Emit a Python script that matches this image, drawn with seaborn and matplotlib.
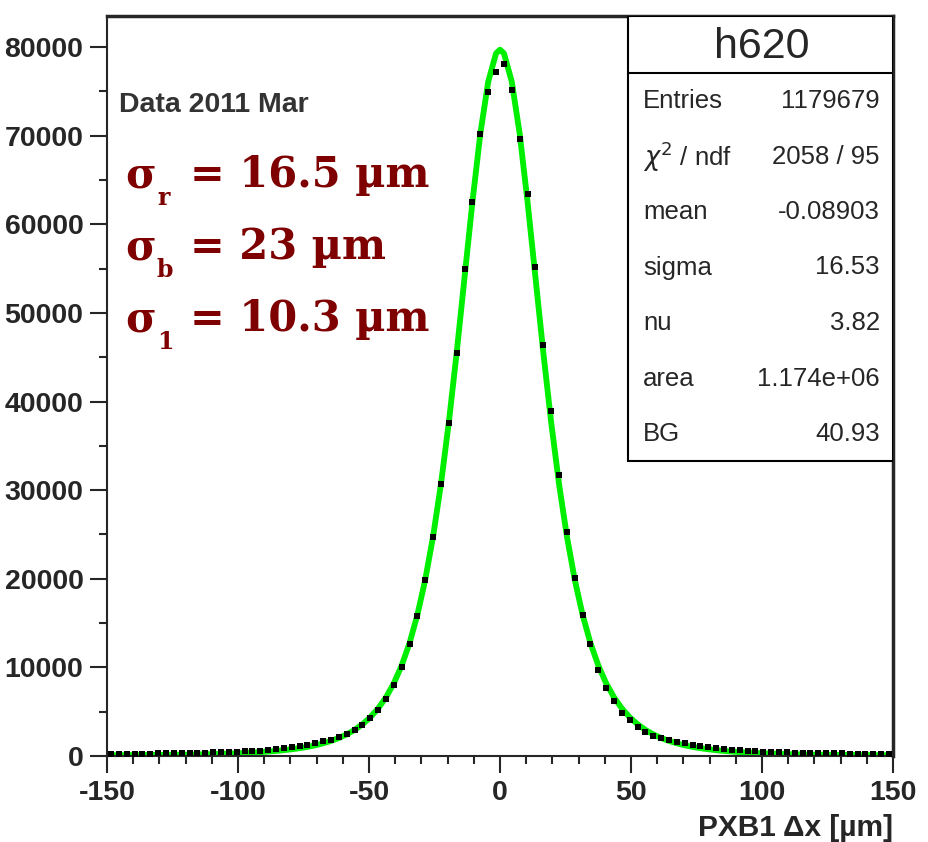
import numpy as np
import pandas as pd
import seaborn as sns
import matplotlib.pyplot as plt
from matplotlib.patches import Rectangle
from matplotlib.ticker import MultipleLocator

sns.set_style('ticks')
plt.rcParams['font.family'] = ['Liberation Sans', 'DejaVu Sans']
plt.rcParams['axes.unicode_minus'] = False

# histogram h620: 100 bins of 3 um from -150 to 150
bin_centres = np.arange(-148.5, 150, 3)
counts = [230, 240, 250, 255, 270, 275, 290, 300, 310, 325,
          340, 355, 375, 395, 420, 445, 475, 510, 560, 610,
          680, 760, 860, 980, 1120, 1280, 1450, 1640, 1850, 2130,
          2480, 2930, 3520, 4280, 5240, 6470, 8010, 10050, 12620, 15830,
          19830, 24760, 30650, 37580, 45480, 54970, 62530, 70200, 74900, 77200,
          78100, 75200, 69600, 63400, 55190, 46400, 38900, 31700, 25300, 20050,
          15900, 12600, 9700, 7700, 6200, 4800, 4050, 3300, 2700, 2300,
          2000, 1800, 1600, 1420, 1270, 1130, 1000, 890, 800, 720,
          650, 600, 550, 505, 470, 440, 410, 385, 365, 345,
          330, 315, 300, 290, 280, 270, 260, 250, 245, 240]

# fitted curve (student-t + BG) read at bin centres and at 0
fit_x = np.sort(np.append(bin_centres, 0.0))
fit_y = [87, 91, 96, 102, 108, 115, 124, 133, 143, 155,
         169, 184, 202, 222, 246, 274, 306, 343, 387, 438,
         499, 571, 657, 759, 882, 1030, 1210, 1430, 1700, 2030,
         2440, 2945, 3580, 4370, 5370, 6630, 8220, 10230, 12770, 15960,
         19940, 24840, 30760, 37720, 45610, 54090, 62580, 70240, 76090, 79290,
         79700,
         79290, 76090, 70240, 62580, 54090, 45610, 37720, 30760, 24840, 19940,
         15960, 12770, 10230, 8220, 6630, 5370, 4370, 3580, 2945, 2440,
         2030, 1700, 1430, 1210, 1030, 882, 759, 657, 571, 499,
         438, 387, 343, 306, 274, 246, 222, 202, 184, 169,
         155, 143, 133, 124, 115, 108, 102, 96, 91, 87]

stat_names = ['Entries', r'$\chi^2$ / ndf', 'mean', 'sigma', 'nu', 'area', 'BG']
stat_values = ['1179679', '2058 / 95', '-0.08903', '16.53', '3.82', '1.174e+06', '40.93']
sigma_subs = ['r', 'b', '1']
sigma_vals = ['= 16.5 µm', '= 23 µm', '= 10.3 µm']

W, H = 929, 842
fig = plt.figure(figsize=(W / 100, H / 100), dpi=100)
ax = fig.add_axes([107 / W, 1 - 756 / H, 786 / W, 740 / H])

df_fit = pd.DataFrame({'x': fit_x, 'y': fit_y})
df_hist = pd.DataFrame({'x': bin_centres, 'y': counts})
sns.lineplot(data=df_fit, x='x', y='y', ax=ax, color='#00ee00', lw=4.2, zorder=2)
sns.scatterplot(data=df_hist, x='x', y='y', ax=ax, marker='s', s=22, color='black',
                edgecolor='black', linewidth=0, zorder=3)

ax.set_xlim(-150, 150)
ax.set_ylim(0, 83500)
ax.xaxis.set_major_locator(MultipleLocator(50))
ax.xaxis.set_minor_locator(MultipleLocator(10))
ax.yaxis.set_major_locator(MultipleLocator(10000))
ax.yaxis.set_minor_locator(MultipleLocator(5000))
ax.tick_params(which='major', length=12, width=1.5, labelsize=20.5, pad=5)
ax.tick_params(which='minor', length=6, width=1.5)
for lab in ax.get_xticklabels() + ax.get_yticklabels():
    lab.set_fontweight('bold')
ax.set_xlabel('')
ax.set_ylabel('')
for side in ['left', 'bottom']:
    ax.spines[side].set_linewidth(1.5)
for side in ['top', 'right']:
    ax.spines[side].set_linewidth(2.5)

fig.text(893 / W, 1 - 836 / H, 'PXB1 Δx [µm]', ha='right', va='baseline',
         fontsize=21.5, fontweight='bold')

fig.text(119 / W, 1 - 112 / H, 'Data 2011 Mar', fontsize=20.5, fontweight='bold',
         color='#333333', va='baseline')
red = '#7f0000'
for i, (sub, val) in enumerate(zip(sigma_subs, sigma_vals)):
    base = 187 + 72 * i
    fig.text(125 / W, 1 - base / H, 'σ', fontsize=30, fontweight='bold',
             family='DejaVu Serif', color=red, va='baseline')
    fig.text(157 / W, 1 - (base + 18) / H, sub, fontsize=17, fontweight='bold',
             family='DejaVu Serif', color=red, va='baseline')
    fig.text(190 / W, 1 - base / H, val, fontsize=30, fontweight='bold',
             family='DejaVu Serif', color=red, va='baseline')

# stats box
x0, x1 = (628 - 107) / 786, 1.0
y0, ysep, y1 = (756 - 461) / 740, (756 - 73) / 740, 1.0
ax.add_patch(Rectangle((x0, y0), x1 - x0, y1 - y0, transform=ax.transAxes,
                       facecolor='white', edgecolor='black', lw=1.5, zorder=5))
ax.plot([x0, x1], [ysep, ysep], transform=ax.transAxes, color='black', lw=1.5, zorder=6)
fig.text(762 / W, 1 - 47 / H, 'h620', fontsize=31, ha='center', va='center', zorder=7)
for i, (n, v) in enumerate(zip(stat_names, stat_values)):
    yy = 1 - (101 + 55.5 * i) / H
    fig.text(643 / W, yy, n, fontsize=18.5, ha='left', va='center', zorder=7)
    fig.text(880 / W, yy, v, fontsize=18.5, ha='right', va='center', zorder=7)

fig.savefig('out.png', dpi=100)
